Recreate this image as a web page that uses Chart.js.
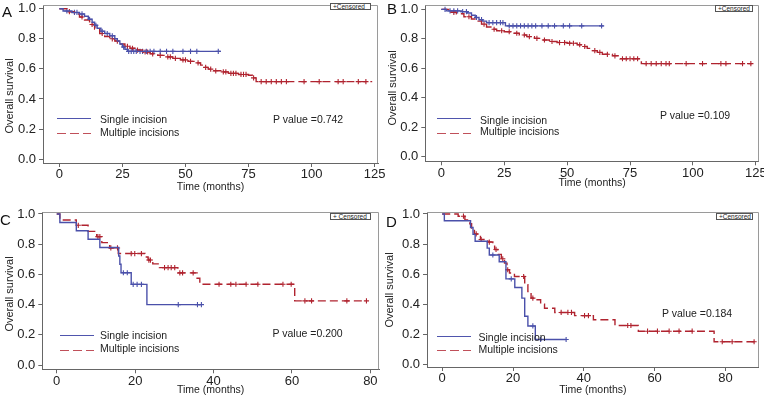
<!DOCTYPE html>
<html lang="en">
<head>
<meta charset="UTF-8">
<title>Overall survival - single vs multiple incisions</title>
<script src="https://cdn.jsdelivr.net/npm/chart.js@4.4.1/dist/chart.umd.min.js"></script>
<style>
  body { margin: 0; background: #fff; overflow: hidden; }
  #wrap { position: relative; width: 764px; height: 396px; background: #fff;
          font-family: 'Liberation Sans', Arial, Helvetica, sans-serif; color: #222; }
  canvas { position: absolute; }
  .letter { position: absolute; font-size: 15px; line-height: 15px; color: #111; }
  .txt { position: absolute; font-size: 10.5px; line-height: 12px; white-space: nowrap; color: #222; }
  .ytitle { position: absolute; font-size: 11px; line-height: 12px; white-space: nowrap; color: #222;
            transform: translate(-50%, -50%) rotate(-90deg); }
  .solid { position: absolute; width: 34px; height: 1.2px; background: #4f55ad; }
  .dash { position: absolute; width: 34px; height: 1.2px;
          background: repeating-linear-gradient(90deg, #c0505a 0 9px, transparent 9px 13px); }
  .cens { position: absolute; height: 7px; border: 1px solid #555; font-size: 6.5px; line-height: 6px;
          padding: 0 2px; box-sizing: border-box; white-space: nowrap; color: #222; background: #fff; }
</style>
</head>
<body>
<div id="wrap">
  <canvas id="cA" width="392" height="198" style="left:0;top:0"></canvas>
  <canvas id="cB" width="382" height="198" style="left:382px;top:0"></canvas>
  <canvas id="cC" width="392" height="198" style="left:0;top:198px"></canvas>
  <canvas id="cD" width="382" height="198" style="left:382px;top:198px"></canvas>

  <!-- panel letters -->
  <div class="letter" style="left:2px;top:4px">A</div>
  <div class="letter" style="left:387px;top:1px">B</div>
  <div class="letter" style="left:0;top:212px">C</div>
  <div class="letter" style="left:386px;top:214px">D</div>

  <!-- y axis titles -->
  <div class="ytitle" style="left:8.5px;top:96px">Overall survival</div>
  <div class="ytitle" style="left:392px;top:87.5px">Overall survival</div>
  <div class="ytitle" style="left:8.5px;top:294px">Overall survival</div>
  <div class="ytitle" style="left:389px;top:290px">Overall survival</div>

  <!-- legends / p values -->
  <div class="solid" style="left:57px;top:118px"></div>
  <div class="txt" style="left:100px;top:112.5px">Single incision</div>
  <div class="dash" style="left:57px;top:132.5px"></div>
  <div class="txt" style="left:100px;top:126px">Multiple incisions</div>
  <div class="txt" style="left:273px;top:113px">P value =0.742</div>

  <div class="solid" style="left:437px;top:118px"></div>
  <div class="txt" style="left:480px;top:113.5px">Single incision</div>
  <div class="dash" style="left:437px;top:132.5px"></div>
  <div class="txt" style="left:480px;top:125px">Multiple incisions</div>
  <div class="txt" style="left:660px;top:108.5px">P value =0.109</div>

  <div class="solid" style="left:60px;top:334.5px"></div>
  <div class="txt" style="left:100px;top:329px">Single incision</div>
  <div class="dash" style="left:60px;top:349.5px"></div>
  <div class="txt" style="left:100px;top:341.5px">Multiple incisions</div>
  <div class="txt" style="left:272.5px;top:327px">P value =0.200</div>

  <div class="solid" style="left:437px;top:336px"></div>
  <div class="txt" style="left:478.5px;top:330.5px">Single incision</div>
  <div class="dash" style="left:437px;top:349.5px"></div>
  <div class="txt" style="left:478.5px;top:343px">Multiple incisions</div>
  <div class="txt" style="left:662px;top:307px">P value =0.184</div>

  <!-- censored keys -->
  <div class="cens" style="left:330px;top:3px;width:41px">+Censored</div>
  <div class="cens" style="left:715px;top:5px;width:38px">+Censored</div>
  <div class="cens" style="left:330px;top:213px;width:41px">+ Censored</div>
  <div class="cens" style="left:716px;top:213px;width:37px">+Censored</div>
</div>

<script>
// ---- data (months, survival probability) ----
const xTicksAB = [0, 25, 50, 75, 100, 125];
const xTicksCD = [0, 20, 40, 60, 80];
const yTicks = [0, 0.2, 0.4, 0.6, 0.8, 1.0];

// A
const aSingleT = [0, 1.5, 5, 8, 10, 11.5, 13, 14, 15, 16.5, 18, 20, 22, 23, 24, 25, 26, 27];
const aSingleS = [1.0, 0.985, 0.975, 0.965, 0.95, 0.93, 0.91, 0.89, 0.87, 0.85, 0.835, 0.82, 0.80, 0.785, 0.765, 0.745, 0.73, 0.716];
const aSingleEnd = 64;
const aSingleCens = [3, 6, 7, 9, 12, 14.5, 17, 19, 21, 25.5, 27.5, 28.5, 29.5, 30.5, 32, 33, 34.5, 36, 37.5, 40, 42.5, 45, 49, 52, 54.5, 63];
const aMultiT = [0, 3, 6, 8, 10, 12, 14, 16, 18, 20, 22, 24, 26, 28, 30, 33, 36, 39, 42, 45, 48, 51, 54, 56, 57.5, 59, 61, 64, 67, 71, 75, 76.5, 78];
const aMultiS = [1.0, 0.98, 0.965, 0.945, 0.925, 0.895, 0.865, 0.835, 0.815, 0.80, 0.785, 0.765, 0.75, 0.737, 0.725, 0.712, 0.70, 0.69, 0.68, 0.67, 0.66, 0.65, 0.64, 0.625, 0.61, 0.598, 0.587, 0.58, 0.57, 0.563, 0.558, 0.54, 0.515];
const aMultiEnd = 124;
const aMultiCens = [4, 9, 13, 17, 21, 23, 27, 29, 31, 34, 35, 37, 40, 43, 44, 46, 49, 50, 52, 55, 58, 60, 62, 65, 66, 68, 69, 70, 72, 73, 74, 77, 80, 82, 84, 86, 88, 90, 97, 103, 110.5, 112.5, 118.5, 121.5];

// B
const bSingleT = [0, 2, 8, 10.5, 12, 13.5, 15, 16.5, 18, 25.5];
const bSingleS = [1.0, 0.99, 0.985, 0.975, 0.96, 0.945, 0.93, 0.92, 0.91, 0.888];
const bSingleEnd = 64.5;
const bSingleCens = [1.5, 3.5, 5, 6.5, 8.5, 10, 14, 16, 19, 20.5, 22, 23.5, 24.5, 27, 28.5, 30, 31.5, 33, 34.5, 36, 37.5, 40, 42.5, 45, 48.5, 51, 55.8, 63.7];
const bMultiT = [0, 3, 6, 9, 12, 14, 16, 18, 20, 22, 25, 28, 31, 34, 37, 40, 43, 46, 50, 54, 56, 58, 60, 62, 64, 68, 71, 79.5];
const bMultiS = [1.0, 0.98, 0.97, 0.95, 0.935, 0.92, 0.9, 0.88, 0.865, 0.855, 0.848, 0.838, 0.826, 0.815, 0.803, 0.792, 0.782, 0.775, 0.77, 0.76, 0.748, 0.735, 0.72, 0.708, 0.695, 0.685, 0.665, 0.632];
const bMultiEnd = 123.5;
const bMultiCens = [5, 11, 17, 21, 24, 27, 30, 33, 35, 38, 41, 44, 47, 49, 51, 52.5, 55, 57, 61, 63, 66, 69, 72, 73.5, 75, 76.5, 78, 81.4, 83.4, 85.4, 87.4, 89.3, 90.6, 97.3, 103.8, 111.1, 113.1, 119.7, 123];

// C
const cSingleT = [0, 0.8, 5, 8, 11, 15.8, 16.1, 16.4, 19, 23];
const cSingleS = [1.0, 0.944, 0.889, 0.833, 0.778, 0.722, 0.667, 0.611, 0.534, 0.40];
const cSingleEnd = 37;
const cSingleCens = [17, 18, 19.5, 20.5, 21.6, 31, 35.9, 36.9];
const cMultiT = [0, 0.8, 5, 8, 10.2, 11.5, 13.5, 15.7, 22.5, 23.3, 24.5, 26.2, 30.9, 35.8, 36.5, 60.7];
const cMultiS = [1.0, 0.96, 0.925, 0.885, 0.85, 0.81, 0.775, 0.738, 0.715, 0.695, 0.67, 0.645, 0.61, 0.575, 0.535, 0.425];
const cMultiEnd = 79;
const cMultiCens = [5.5, 10.5, 11, 13.8, 15.5, 19, 19.9, 21.6, 23.5, 23.9, 27.5, 28.4, 29.2, 30.1, 31.4, 32.1, 34.8, 41.4, 44.4, 45.7, 48.3, 51.3, 57.7, 59.8, 63.3, 65, 74, 79];

// D
const dSingleT = [0, 0.6, 8, 8.7, 9.3, 12.7, 13.3, 16.1, 18, 20.5, 22.5, 23.3, 24.2, 26.3];
const dSingleS = [1.0, 0.955, 0.91, 0.864, 0.818, 0.773, 0.727, 0.682, 0.568, 0.511, 0.44, 0.32, 0.255, 0.165];
const dSingleEnd = 35;
const dSingleCens = [14.3, 19.5, 25.6, 27.8, 35];
const dMultiT = [0, 4.5, 6.4, 7.8, 8.3, 9.1, 10.8, 12.9, 14.3, 14.8, 15.7, 16.7, 17.6, 18.3, 19, 20.4, 23.3, 24.2, 25.1, 26.5, 27.8, 28.9, 31.8, 37.4, 42.7, 48.8, 55.4, 76.8];
const dMultiS = [1.0, 0.985, 0.96, 0.935, 0.907, 0.867, 0.83, 0.813, 0.796, 0.764, 0.731, 0.702, 0.673, 0.629, 0.607, 0.584, 0.529, 0.484, 0.44, 0.429, 0.40, 0.373, 0.345, 0.324, 0.296, 0.258, 0.22, 0.15];
const dMultiEnd = 88.3;
const dMultiCens = [6, 9.6, 11, 13.3, 15.2, 17.1, 18.5, 23, 25.6, 33.6, 35.5, 36.5, 40.2, 41.3, 52.4, 53.3, 58, 60.8, 64.1, 66.9, 70.6, 79.1, 81.9, 88.1];

const BLUE = '#4a50aa';
const RED = '#b0232f';
const FONT = "'Liberation Sans', Arial, Helvetica, sans-serif";

// step curve points, last level carried to end of follow-up
function stepData(t, s, end) {
  const pts = t.map((x, i) => ({ x: x, y: s[i] }));
  pts.push({ x: end, y: s[s.length - 1] });
  return pts;
}
function survAt(t, s, x) {
  let v = s[0];
  for (let i = 0; i < t.length; i++) if (t[i] <= x) v = s[i];
  return v;
}
function censData(t, s, cens) {
  return cens.map(x => ({ x: x, y: survAt(t, s, x) }));
}

// top/right frame lines of the plot box
const framePlugin = {
  id: 'frame',
  beforeDatasetsDraw(chart) {
    const { ctx, chartArea: a } = chart;
    ctx.save();
    ctx.strokeStyle = '#9a9a9a';
    ctx.lineWidth = 1;
    ctx.beginPath();
    ctx.moveTo(a.left, Math.round(a.top) + 0.5);
    ctx.lineTo(Math.round(a.right) - 0.5, Math.round(a.top) + 0.5);
    ctx.lineTo(Math.round(a.right) - 0.5, a.bottom);
    ctx.stroke();
    ctx.restore();
  }
};

function makePanel(id, p, xTicks, single, multi) {
  const w = document.getElementById(id).width;
  const h = document.getElementById(id).height;
  new Chart(document.getElementById(id), {
    type: 'line',
    data: {
      datasets: [
        { label: 'Single incision', data: stepData(single.t, single.s, single.end), stepped: true,
          borderColor: BLUE, borderWidth: 1.4, pointRadius: 0, fill: false },
        { label: 'Multiple incisions', data: stepData(multi.t, multi.s, multi.end), stepped: true,
          borderColor: RED, borderWidth: 1.4, borderDash: [8, 4], pointRadius: 0, fill: false },
        { label: 'Single censored', data: censData(single.t, single.s, single.cens), showLine: false,
          pointStyle: 'cross', pointRadius: 2.6, pointBorderWidth: 1.1, borderColor: BLUE, backgroundColor: BLUE },
        { label: 'Multiple censored', data: censData(multi.t, multi.s, multi.cens), showLine: false,
          pointStyle: 'cross', pointRadius: 2.6, pointBorderWidth: 1.1, borderColor: RED, backgroundColor: RED }
      ]
    },
    options: {
      responsive: false,
      animation: false,
      layout: { padding: { left: 0, top: p.t, right: w - p.r, bottom: 0 } },
      plugins: { legend: { display: false }, tooltip: { enabled: false } },
      scales: {
        x: {
          type: 'linear', min: p.xMin, max: p.xMax,
          afterBuildTicks: s => { s.ticks = xTicks.map(v => ({ value: v })); },
          afterFit: s => { s.height = h - p.b; s.paddingLeft = 0; s.paddingRight = 0; },
          ticks: { font: { family: FONT, size: 13 }, color: '#222', padding: 0, maxRotation: 0, autoSkip: false },
          grid: { display: true, drawOnChartArea: false, drawTicks: true, tickLength: 4, color: '#666' },
          border: { display: true, color: '#666', width: 1 },
          title: { display: true, text: 'Time (months)', color: '#222',
                   font: { family: FONT, size: 10.5 }, padding: { top: 0, bottom: p.xTitlePad } }
        },
        y: {
          type: 'linear', min: p.yMin, max: p.yMax,
          afterBuildTicks: s => { s.ticks = yTicks.map(v => ({ value: v })); },
          afterFit: s => { s.width = p.l; s.paddingTop = 0; s.paddingBottom = 0; },
          ticks: { font: { family: FONT, size: 13 }, color: '#222', padding: 3, autoSkip: false,
                   callback: v => v.toFixed(1) },
          grid: { display: true, drawOnChartArea: false, drawTicks: true, tickLength: 4, color: '#666' },
          border: { display: true, color: '#666', width: 1 },
          title: { display: false }
        }
      }
    },
    plugins: [framePlugin]
  });
}

makePanel('cA', { l: 43, r: 378, t: 2, b: 163, xMin: -6.46, xMax: 126.3, yMin: -0.026, yMax: 1.024, xTitlePad: 5 },
  xTicksAB,
  { t: aSingleT, s: aSingleS, end: aSingleEnd, cens: aSingleCens },
  { t: aMultiT, s: aMultiS, end: aMultiEnd, cens: aMultiCens });

makePanel('cB', { l: 43.3, r: 377.7, t: 3, b: 161.3, xMin: -6.34, xMax: 126.2, yMin: -0.031, yMax: 1.029, xTitlePad: 8.4 },
  xTicksAB,
  { t: bSingleT, s: bSingleS, end: bSingleEnd, cens: bSingleCens },
  { t: bMultiT, s: bMultiS, end: bMultiEnd, cens: bMultiCens });

makePanel('cC', { l: 42.3, r: 379, t: 14, b: 171.3, xMin: -3.68, xMax: 82.2, yMin: -0.028, yMax: 1.013, xTitlePad: 0 },
  xTicksCD,
  { t: cSingleT, s: cSingleS, end: cSingleEnd, cens: cSingleCens },
  { t: cMultiT, s: cMultiS, end: cMultiEnd, cens: cMultiCens });

makePanel('cD', { l: 45, r: 376.7, t: 14, b: 169, xMin: -4.3, xMax: 89.4, yMin: -0.018, yMax: 1.013, xTitlePad: 0 },
  xTicksCD,
  { t: dSingleT, s: dSingleS, end: dSingleEnd, cens: dSingleCens },
  { t: dMultiT, s: dMultiS, end: dMultiEnd, cens: dMultiCens });
</script>
</body>
</html>
